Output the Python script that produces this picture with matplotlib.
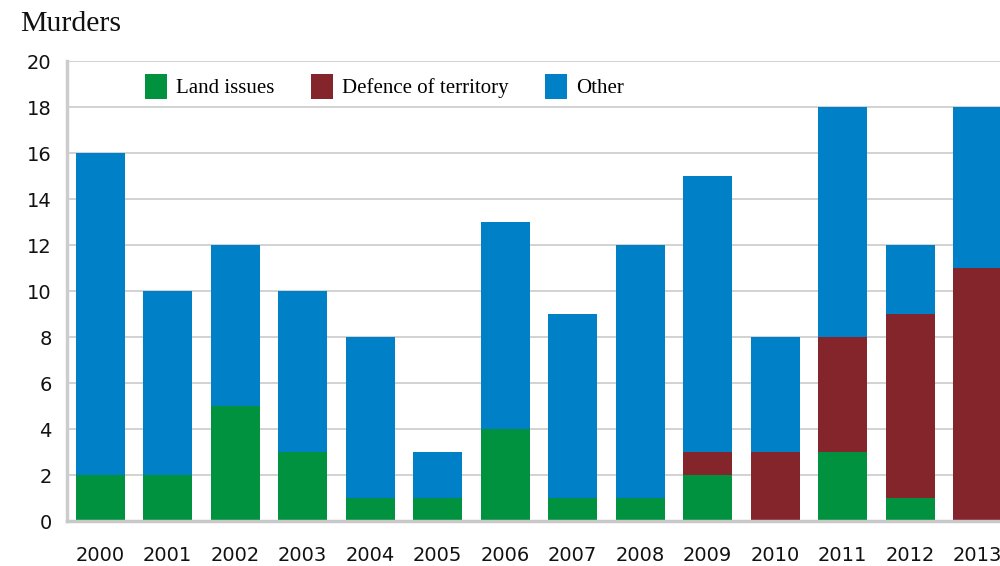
import numpy as np
import matplotlib
matplotlib.use('Agg')
import matplotlib.pyplot as plt

years = ['2000', '2001', '2002', '2003', '2004', '2005', '2006',
         '2007', '2008', '2009', '2010', '2011', '2012', '2013']
landIssues = [2, 2, 5, 3, 1, 1, 4, 1, 1, 2, 0, 3, 1, 0]
defenceOfTerritory = [0, 0, 0, 0, 0, 0, 0, 0, 0, 1, 3, 5, 8, 11]
other = [14, 8, 7, 7, 7, 2, 9, 8, 11, 12, 5, 10, 3, 7]

green = '#00923F'
maroon = '#84252B'
blue = '#0081C7'

def plotMurders():
    fig = plt.figure(figsize=(10, 5.66), dpi=100)
    # axes run past the right edge, the original is cropped at 2013
    ax = fig.add_axes([0.067, 0.0795, 0.945, 0.8127])

    x = np.arange(len(years))
    land = np.array(landIssues)
    defence = np.array(defenceOfTerritory)
    oth = np.array(other)
    w = 0.726

    ax.bar(x, land, w, color=green, label='Land issues', zorder=3)
    ax.bar(x, defence, w, bottom=land, color=maroon, label='Defence of territory', zorder=3)
    ax.bar(x, oth, w, bottom=land + defence, color=blue, label='Other', zorder=3)

    ax.set_xlim(-0.49, 13.51)
    ax.set_ylim(0, 20)
    ax.set_yticks(range(0, 21, 2))
    ax.set_xticks(x)
    ax.set_xticklabels(years)

    ax.yaxis.grid(True, color='#cfcfcf', linewidth=1.3, zorder=0)
    ax.set_axisbelow(True)
    for side in ['top', 'right']:
        ax.spines[side].set_visible(False)
    ax.spines['left'].set_color('#cccccc')
    ax.spines['left'].set_linewidth(2.5)
    ax.spines['bottom'].set_color('#c8c8c8')
    ax.spines['bottom'].set_linewidth(2.5)
    ax.spines['bottom'].set_zorder(4)

    ax.tick_params(axis='both', length=0, labelsize=14, labelcolor='#111111')
    ax.tick_params(axis='y', pad=11)
    ax.tick_params(axis='x', pad=18)
    for lab in ax.get_xticklabels() + ax.get_yticklabels():
        lab.set_fontfamily('DejaVu Sans')

    fig.text(0.02, 0.945, 'Murders', fontsize=21.5, family='Liberation Serif',
             va='baseline', ha='left', color='#111111')

    ax.legend(loc='upper left', bbox_to_anchor=(0.0735, 0.99), ncol=3, frameon=False,
              prop={'family': 'Liberation Serif', 'size': 15},
              handlelength=1.05, handleheight=1.45, handletextpad=0.45,
              columnspacing=1.75, borderaxespad=0)

    fig.savefig('out.png', dpi=100)

plotMurders()
